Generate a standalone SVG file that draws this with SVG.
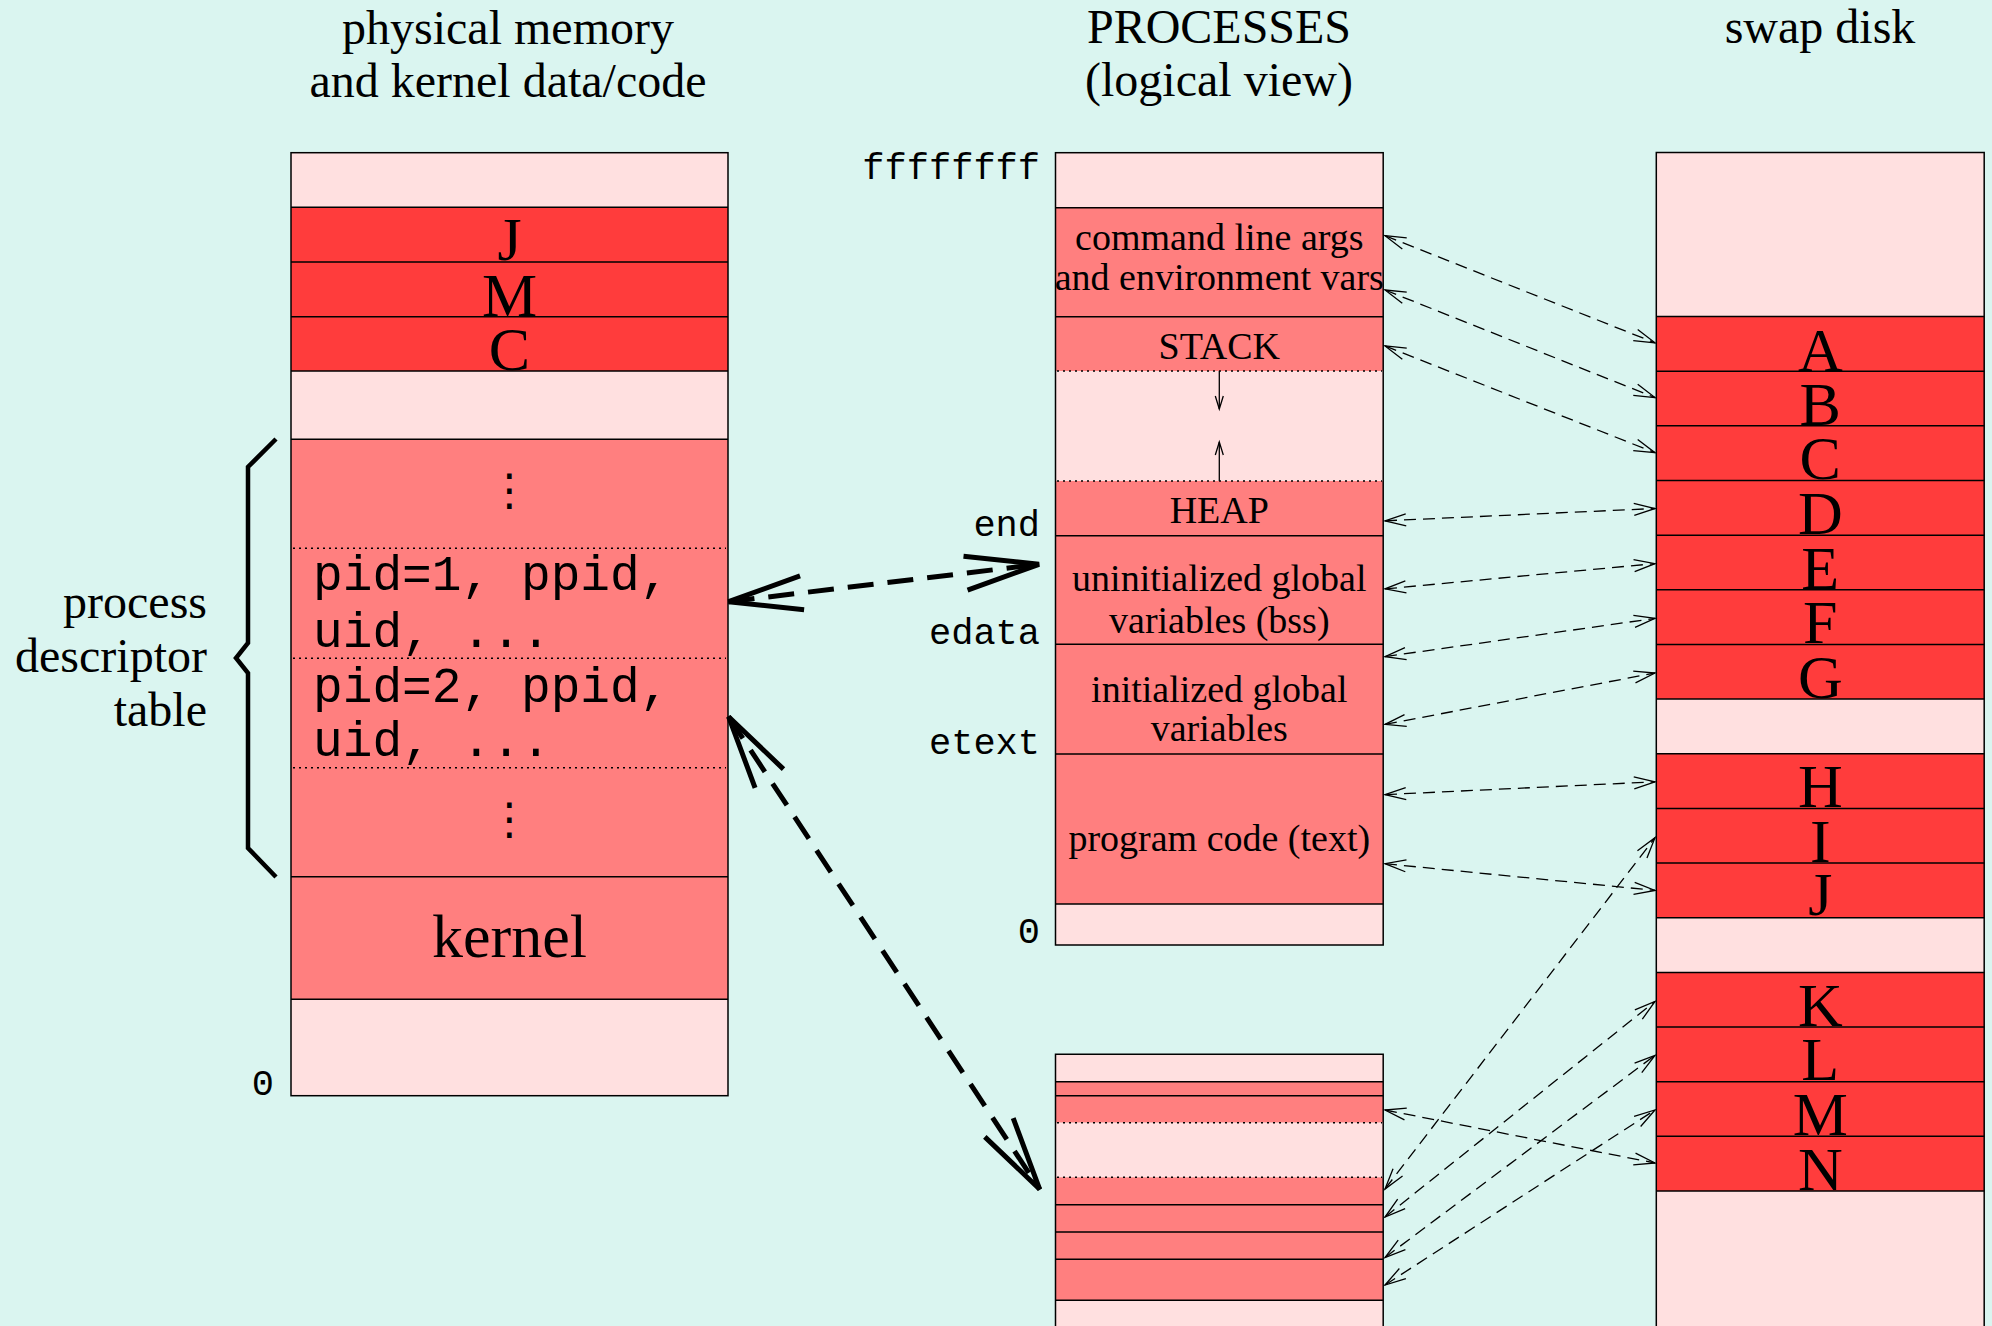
<svg xmlns="http://www.w3.org/2000/svg" width="1992" height="1326" viewBox="0 0 1992 1326">
<style>
.pink{fill:#ffe0e0}
.red{fill:#ff3c3c}
.sal{fill:#ff7f7f}
.ln{stroke:#000;stroke-width:1.5;fill:none}
.dot{stroke:#000;stroke-width:1.5;stroke-dasharray:2 4;fill:none}
.title{font-family:"Liberation Serif","Times New Roman",serif;font-size:48px;fill:#000}
.lbl{font-family:"Liberation Serif","Times New Roman",serif;font-size:38px;fill:#000;text-anchor:middle}
.big{font-family:"Liberation Serif","Times New Roman",serif;font-size:62px;fill:#000;text-anchor:middle}
.mono{font-family:"Liberation Mono","Courier New",monospace;font-size:37px;fill:#000;text-anchor:end}
.pid{font-family:"Liberation Mono","Courier New",monospace;font-size:49.5px;fill:#000}
.vd{font-family:"DejaVu Sans",sans-serif;font-size:44px;fill:#000;text-anchor:middle}
.thick{stroke:#000;stroke-width:5;stroke-dasharray:26 14;fill:none;marker-start:url(#bh);marker-end:url(#bh)}
.thin{stroke:#000;stroke-width:1.3;stroke-dasharray:12 7;fill:none;marker-start:url(#sh);marker-end:url(#sh)}
.solid{stroke:#000;stroke-width:1.3;fill:none;marker-end:url(#vh)}
</style>
<defs>
<marker id="bh" markerUnits="userSpaceOnUse" markerWidth="90" markerHeight="50" viewBox="-85 -25 90 50" refX="0" refY="0" orient="auto-start-reverse">
<path d="M-74,-17 L0,0 L-74,17" fill="none" stroke="#000" stroke-width="5"/>
</marker>
<marker id="sh" markerUnits="userSpaceOnUse" markerWidth="30" markerHeight="20" viewBox="-25 -10 30 20" refX="0" refY="0" orient="auto-start-reverse">
<path d="M-21,-6 L0,0 L-21,6" fill="none" stroke="#000" stroke-width="1.3"/>
</marker>
<marker id="vh" markerUnits="userSpaceOnUse" markerWidth="20" markerHeight="12" viewBox="-16 -6 20 12" refX="0" refY="0" orient="auto">
<path d="M-13,-4 L0,0 L-13,4" fill="none" stroke="#000" stroke-width="1.3"/>
</marker>
</defs>
<rect x="0" y="0" width="1992" height="1326" fill="#daf5f0"/>

<g id="titles">
<text class="title" x="508" y="44" text-anchor="middle">physical memory</text>
<text class="title" x="508" y="97" text-anchor="middle">and kernel data/code</text>
<text class="title" x="1219" y="43" text-anchor="middle">PROCESSES</text>
<text class="title" x="1219" y="96" text-anchor="middle">(logical view)</text>
<text class="title" x="1820" y="43" text-anchor="middle">swap disk</text>
</g>

<g id="physical-memory">
<rect class="pink" x="291" y="152.7" width="437" height="54.6"/>
<rect class="red" x="291" y="207.3" width="437" height="163.7"/>
<rect class="pink" x="291" y="371" width="437" height="68.3"/>
<rect class="sal" x="291" y="439.3" width="437" height="560"/>
<rect class="pink" x="291" y="999.3" width="437" height="96.4"/>
<path class="ln" d="M291,207.3H728M291,262H728M291,316.7H728M291,371H728M291,439.3H728M291,876.7H728M291,999.3H728"/>
<path class="dot" d="M293,548.3H726M293,658.3H726M293,767.7H726"/>
<rect class="ln" x="291" y="152.7" width="437" height="943"/>
<text class="big" x="509.5" y="260">J</text>
<text class="big" x="509.5" y="315.5">M</text>
<text class="big" x="509.5" y="369.5">C</text>
<text class="vd" x="509.5" y="505">⋮</text>
<text class="pid" x="313" y="590">pid=1, ppid,</text>
<text class="pid" x="313" y="647">uid, ...</text>
<text class="pid" x="313" y="702">pid=2, ppid,</text>
<text class="pid" x="313" y="756">uid, ...</text>
<text class="vd" x="509.5" y="834">⋮</text>
<text class="big" x="509.5" y="957" font-size="66">kernel</text>
<text class="mono" x="274" y="1095">0</text>
</g>

<g id="process-descriptor-table">
<path d="M276,439 L248,467 L248,643 L236,658 L248,673 L248,848 L276,877" fill="none" stroke="#000" stroke-width="4.5"/>
<text class="title" x="207" y="618" text-anchor="end">process</text>
<text class="title" x="207" y="672" text-anchor="end">descriptor</text>
<text class="title" x="207" y="726" text-anchor="end">table</text>
</g>

<g id="process-1">
<rect class="pink" x="1055.5" y="152.7" width="327.7" height="55"/>
<rect class="sal" x="1055.5" y="207.7" width="327.7" height="163.3"/>
<rect class="pink" x="1055.5" y="371" width="327.7" height="110"/>
<rect class="sal" x="1055.5" y="481" width="327.7" height="423"/>
<rect class="pink" x="1055.5" y="904" width="327.7" height="41"/>
<path class="ln" d="M1055.5,207.7H1383.2M1055.5,316.7H1383.2M1055.5,535.7H1383.2M1055.5,644.3H1383.2M1055.5,754H1383.2M1055.5,904H1383.2"/>
<path class="dot" d="M1057,371H1382M1057,481H1382"/>
<rect class="ln" x="1055.5" y="152.7" width="327.7" height="792.3"/>
<path class="solid" d="M1219.3,371V409"/>
<path class="solid" d="M1219.3,481V442"/>
<text class="lbl" x="1219.3" y="249.5">command line args</text>
<text class="lbl" x="1219.3" y="289.5">and environment vars</text>
<text class="lbl" x="1219.3" y="359">STACK</text>
<text class="lbl" x="1219.3" y="523">HEAP</text>
<text class="lbl" x="1219.3" y="591">uninitialized global</text>
<text class="lbl" x="1219.3" y="632.5">variables (bss)</text>
<text class="lbl" x="1219.3" y="701.5">initialized global</text>
<text class="lbl" x="1219.3" y="740.5">variables</text>
<text class="lbl" x="1219.3" y="850.5">program code (text)</text>
<text class="mono" x="1040" y="179">ffffffff</text>
<text class="mono" x="1040" y="536">end</text>
<text class="mono" x="1040" y="644">edata</text>
<text class="mono" x="1040" y="754">etext</text>
<text class="mono" x="1040" y="943">0</text>
</g>

<g id="process-2">
<rect class="pink" x="1055.5" y="1054.3" width="327.7" height="27.4"/>
<rect class="sal" x="1055.5" y="1081.7" width="327.7" height="41"/>
<rect class="pink" x="1055.5" y="1122.7" width="327.7" height="54.6"/>
<rect class="sal" x="1055.5" y="1177.3" width="327.7" height="123"/>
<rect class="pink" x="1055.5" y="1300.3" width="327.7" height="40"/>
<path class="ln" d="M1055.5,1081.7H1383.2M1055.5,1095.7H1383.2M1055.5,1204.7H1383.2M1055.5,1232H1383.2M1055.5,1259.3H1383.2M1055.5,1300.3H1383.2"/>
<path class="dot" d="M1057,1122.7H1382M1057,1177.3H1382"/>
<path class="ln" d="M1055.5,1340V1054.3H1383.2V1340"/>
</g>

<g id="swap-disk">
<rect class="pink" x="1656.3" y="152.6" width="327.9" height="163.9"/>
<rect class="red" x="1656.3" y="316.5" width="327.9" height="382.6"/>
<rect class="pink" x="1656.3" y="699.1" width="327.9" height="54.7"/>
<rect class="red" x="1656.3" y="753.8" width="327.9" height="163.9"/>
<rect class="pink" x="1656.3" y="917.7" width="327.9" height="54.7"/>
<rect class="red" x="1656.3" y="972.4" width="327.9" height="218.6"/>
<rect class="pink" x="1656.3" y="1191" width="327.9" height="150"/>
<path class="ln" d="M1656.3,316.5H1984.2M1656.3,371.2H1984.2M1656.3,425.85H1984.2M1656.3,480.5H1984.2M1656.3,535.2H1984.2M1656.3,589.8H1984.2M1656.3,644.5H1984.2M1656.3,699.1H1984.2M1656.3,753.8H1984.2M1656.3,808.4H1984.2M1656.3,863.1H1984.2M1656.3,917.7H1984.2M1656.3,972.4H1984.2M1656.3,1027H1984.2M1656.3,1081.7H1984.2M1656.3,1136.3H1984.2M1656.3,1191H1984.2"/>
<path class="ln" d="M1656.3,1340V152.6H1984.2V1340"/>
<text class="big" x="1820.3" y="370.5">A</text>
<text class="big" x="1820.3" y="425">B</text>
<text class="big" x="1820.3" y="479">C</text>
<text class="big" x="1820.3" y="534">D</text>
<text class="big" x="1820.3" y="588.5">E</text>
<text class="big" x="1820.3" y="643">F</text>
<text class="big" x="1820.3" y="697.5">G</text>
<text class="big" x="1820.3" y="807">H</text>
<text class="big" x="1820.3" y="861.5">I</text>
<text class="big" x="1820.3" y="915">J</text>
<text class="big" x="1820.3" y="1025.5">K</text>
<text class="big" x="1820.3" y="1080">L</text>
<text class="big" x="1820.3" y="1135">M</text>
<text class="big" x="1820.3" y="1189.5">N</text>
</g>

<g id="connectors">
<path class="thick" d="M728.6,601.7 L1039,564.3"/>
<path class="thick" d="M728.6,716.7 L1039.7,1189.3"/>
<path class="thin" d="M1385,235.7 L1655,342.8"/>
<path class="thin" d="M1385,290 L1655,397.6"/>
<path class="thin" d="M1385,345.9 L1655,452.7"/>
<path class="thin" d="M1385,520.8 L1655,508.5"/>
<path class="thin" d="M1385,588.9 L1655,563.6"/>
<path class="thin" d="M1385,656.6 L1655,618.4"/>
<path class="thin" d="M1385,724.4 L1655,673"/>
<path class="thin" d="M1385,794.6 L1655,781.8"/>
<path class="thin" d="M1385,863.7 L1655,890.4"/>
<path class="thin" d="M1385,1189 L1655,837.7"/>
<path class="thin" d="M1385,1110 L1655,1163"/>
<path class="thin" d="M1385,1217 L1655,1001.4"/>
<path class="thin" d="M1385,1257.5 L1655,1055.3"/>
<path class="thin" d="M1385,1285 L1655,1110"/>
</g>
</svg>
